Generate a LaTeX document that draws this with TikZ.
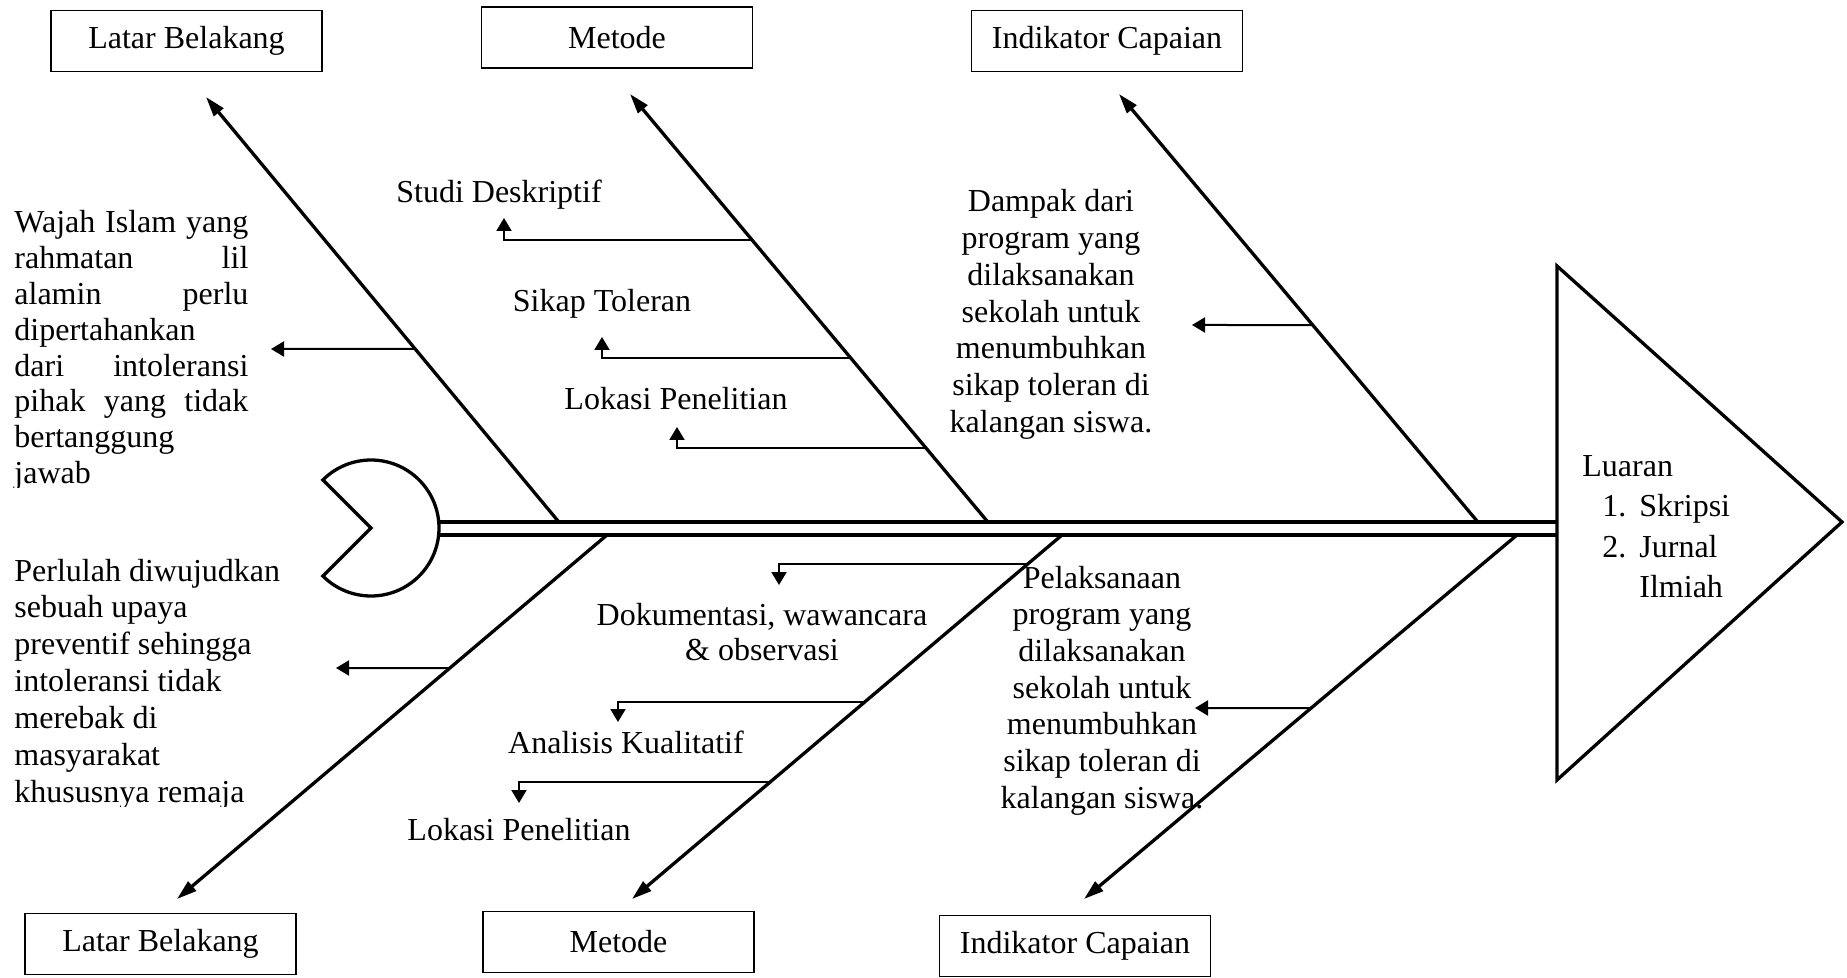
\documentclass[tikz,border=0pt]{standalone}
\usepackage{fontspec}
\setmainfont{Liberation Serif}
\usetikzlibrary{arrows.meta,calc}
\newcommand\jl[1]{\hbox to 117pt{#1}}
\newcommand\cl[1]{\hbox to 0pt{\hss #1\hss}}
\begin{document}
\begin{tikzpicture}[x=0.5pt,y=-0.5pt,
  bone/.style={line width=1.65pt, -{Triangle[length=10pt,width=6pt]}},
  thickline/.style={line width=1.65pt},
  subarrow/.style={line width=1pt, -{Triangle[length=6.5pt,width=7.5pt]}},
  labelbox/.style={draw, line width=0.8pt, minimum width=135.5pt, minimum height=30.5pt, inner sep=0pt, font=\fontsize{16}{18}\selectfont},
  txt/.style={inner sep=0pt, font=\fontsize{16}{18}\selectfont}]
\fill[white] (0,0) rectangle (1847,978);
\useasboundingbox (0,0) rectangle (1847,978);

% head
\coordinate (hc) at (371,528);
\draw[thickline, line join=miter] (hc) -- ++(135:34pt) arc[start angle=135, end angle=-135, radius=34pt] -- cycle;

% spine
\coordinate (spTL) at (438,522);
\coordinate (spTR) at (1557,522);
\coordinate (spBL) at (438,535);
\coordinate (spBR) at (1557,535);
\draw[thickline] (spTL) -- (spTR);
\draw[thickline] (spBL) -- (spBR);

% tail triangle
\coordinate (tri1) at (1557,266);
\coordinate (tri2) at (1842,522);
\coordinate (tri3) at (1557,780);
\draw[thickline, line join=miter] (tri1) -- (tri2) -- (tri3) -- cycle;
\node[txt, anchor=base west] (luaran) at (1582,477) {\vtop{\baselineskip=20pt
  \hbox{Luaran}
  \hbox{\hspace*{10pt}\makebox[18.5pt][l]{1.}Skripsi}
  \hbox{\hspace*{10pt}\makebox[18.5pt][l]{2.}Jurnal}
  \hbox{\hspace*{28.5pt}Ilmiah}}};

% boxes
\node[labelbox] (top1) at (186.5,41) {Latar Belakang};
\node[labelbox] (top2) at (617,37.5) {Metode};
\node[labelbox] (top3) at (1107,41) {Indikator Capaian};
\node[labelbox] (bot1) at (160.5,944) {Latar Belakang};
\node[labelbox] (bot2) at (618.5,942) {Metode};
\node[labelbox] (bot3) at (1075,946) {Indikator Capaian};

% upper bones
\coordinate (u1s) at (558,521); \coordinate (u1e) at (206,97);
\coordinate (u2s) at (987,521); \coordinate (u2e) at (630,94);
\coordinate (u3s) at (1477,521); \coordinate (u3e) at (1119,94);
\draw[bone] (u1s) -- (u1e);
\draw[bone] (u2s) -- (u2e);
\draw[bone] (u3s) -- (u3e);

% lower bones
\coordinate (l1s) at (607,535); \coordinate (l1e) at (177,899);
\coordinate (l2s) at (1062,535); \coordinate (l2e) at (632,899);
\coordinate (l3s) at (1517,535); \coordinate (l3e) at (1084,899);
\draw[bone] (l1s) -- (l1e);
\draw[bone] (l2s) -- (l2e);
\draw[bone] (l3s) -- (l3e);

% upper branch arrows
\coordinate (a1) at ($(u1s)!0.4057!(u1e)$); \coordinate (a1t) at (271,349);
\draw[subarrow] (a1) -- (a1t);
\coordinate (sd) at ($(u2s)!0.6581!(u2e)$); \coordinate (sdt) at (504,218);
\draw[subarrow] (sd) -| (sdt);
\coordinate (st) at ($(u2s)!0.3817!(u2e)$); \coordinate (stt) at (602,337);
\draw[subarrow] (st) -| (stt);
\coordinate (lu) at ($(u2s)!0.17096!(u2e)$); \coordinate (lut) at (677,427);
\draw[subarrow] (lu) -| (lut);
\coordinate (a3) at ($(u3s)!0.4590!(u3e)$); \coordinate (a3t) at (1192,325);
\draw[subarrow] (a3) -- (a3t);

% lower branch arrows
\coordinate (c1) at ($(l1s)!0.3654!(l1e)$); \coordinate (c1t) at (336,668);
\draw[subarrow] (c1) -- (c1t);
\coordinate (dk) at ($(l2s)!0.0797!(l2e)$); \coordinate (dkt) at (779,585);
\draw[subarrow] (dk) -| (dkt);
\coordinate (ak) at ($(l2s)!0.4588!(l2e)$); \coordinate (akt) at (618,722);
\draw[subarrow] (ak) -| (akt);
\coordinate (ll) at ($(l2s)!0.6786!(l2e)$); \coordinate (llt) at (519,803);
\draw[subarrow] (ll) -| (llt);
\coordinate (c3) at ($(l3s)!0.4753!(l3e)$); \coordinate (c3t) at (1195,708);
\draw[subarrow] (c3) -- (c3t);

% branch labels
\node[txt, anchor=base] (studi) at (499,203) {Studi Deskriptif};
\node[txt, anchor=base] (sikap) at (602,312) {Sikap Toleran};
\node[txt, anchor=base] (lokasiU) at (676,410) {Lokasi Penelitian};
\node[txt, anchor=base] (dokum) at (762,625) {\vtop{\baselineskip=17.5pt
  \cl{Dokumentasi, wawancara}\cl{\& observasi}}};
\node[txt, anchor=base] (analisis) at (626,753) {Analisis Kualitatif};
\node[txt, anchor=base] (lokasiL) at (519,840) {Lokasi Penelitian};

% side text blocks
\begin{scope}
\clip (0,150) rectangle (300,487);
\node[txt, anchor=base west] (wajah) at (14,233) {\vtop{\baselineskip=17.9pt
  \jl{Wajah Islam yang}
  \jl{rahmatan\hfill lil}
  \jl{alamin\hfill perlu}
  \jl{dipertahankan\hfill}
  \jl{dari\hfill intoleransi}
  \jl{pihak\hfill yang\hfill tidak}
  \jl{bertanggung\hfill}
  \jl{jawab\hfill}}};
\end{scope}
\begin{scope}
\clip (0,540) rectangle (300,806);
\node[txt, anchor=base west] (perlu) at (14,581) {\vtop{\baselineskip=18.45pt
  \hbox{Perlulah diwujudkan}
  \hbox{sebuah upaya}
  \hbox{preventif sehingga}
  \hbox{intoleransi tidak}
  \hbox{merebak di}
  \hbox{masyarakat}
  \hbox{khususnya remaja}}};
\end{scope}
\node[txt, anchor=base] (dampak) at (1051,212) {\vtop{\baselineskip=18.35pt
  \cl{Dampak dari}
  \cl{program yang}
  \cl{dilaksanakan}
  \cl{sekolah untuk}
  \cl{menumbuhkan}
  \cl{sikap toleran di}
  \cl{kalangan siswa.}}};
\node[txt, anchor=base] (pelaks) at (1102,588) {\vtop{\baselineskip=18.35pt
  \cl{Pelaksanaan}
  \cl{program yang}
  \cl{dilaksanakan}
  \cl{sekolah untuk}
  \cl{menumbuhkan}
  \cl{sikap toleran di}
  \cl{kalangan siswa.}}};
\end{tikzpicture}
\end{document}
